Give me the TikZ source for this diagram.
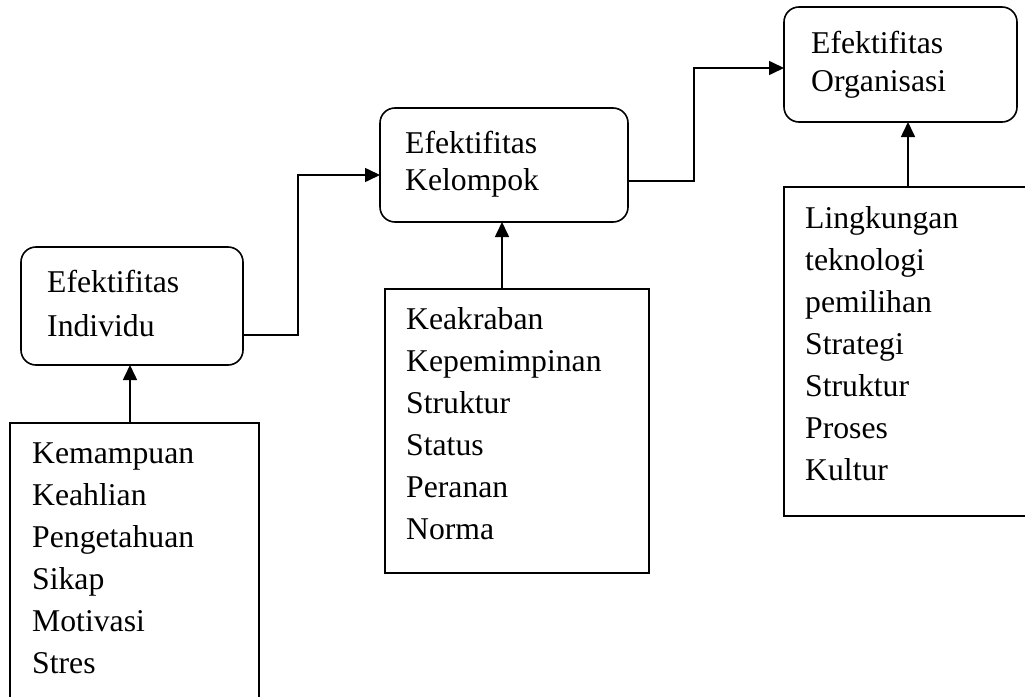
\documentclass[tikz,border=0pt]{standalone}
\usepackage{fontspec}
\setmainfont{Liberation Serif}
\usetikzlibrary{arrows.meta}
\begin{document}
\begin{tikzpicture}[x=1pt,y=-1pt,
  box/.style={draw,line width=1.6pt,anchor=north west,inner sep=0pt,outer sep=0pt},
  rbox/.style={box,rounded corners=15pt},
  txt/.style={anchor=base west,inner sep=0pt,font=\fontsize{31.7}{42}\selectfont},
  conn/.style={line width=1.6pt,-{Triangle[length=15pt,width=14pt]}}]
\useasboundingbox (0,0) rectangle (1025,696);
% boxes
\node[rbox,minimum width=222pt,minimum height=118pt] (ind) at (21,247) {};
\node[box,minimum width=249pt,minimum height=300pt] (kem) at (10,423) {};
\node[rbox,minimum width=248pt,minimum height=114pt] (kel) at (380,108) {};
\node[box,minimum width=264pt,minimum height=284pt] (kea) at (385,289) {};
\node[rbox,minimum width=233pt,minimum height=115pt] (org) at (784,7) {};
\node[box,minimum width=260pt,minimum height=329pt] (lin) at (784,187) {};
% texts
\node[txt] (ind1) at (47,292) {Efektifitas};
\node[txt] (ind2) at (47,336) {Individu};
\node[txt] (kel1) at (405,153) {Efektifitas};
\node[txt] (kel2) at (405,190) {Kelompok};
\node[txt] (org1) at (811,53) {Efektifitas};
\node[txt] (org2) at (811,91) {Organisasi};
\node[txt] (k1) at (32,463) {Kemampuan};
\node[txt] (k2) at (32,505) {Keahlian};
\node[txt] (k3) at (32,547) {Pengetahuan};
\node[txt] (k4) at (32,589) {Sikap};
\node[txt] (k5) at (32,631) {Motivasi};
\node[txt] (k6) at (32,673) {Stres};
\node[txt] (g1) at (406,329) {Keakraban};
\node[txt] (g2) at (406,371) {Kepemimpinan};
\node[txt] (g3) at (406,413) {Struktur};
\node[txt] (g4) at (406,455) {Status};
\node[txt] (g5) at (406,497) {Peranan};
\node[txt] (g6) at (406,539) {Norma};
\node[txt] (l1) at (805,228) {Lingkungan};
\node[txt] (l2) at (805,270) {teknologi};
\node[txt] (l3) at (805,312) {pemilihan};
\node[txt] (l4) at (805,354) {Strategi};
\node[txt] (l5) at (805,396) {Struktur};
\node[txt] (l6) at (805,438) {Proses};
\node[txt] (l7) at (805,480) {Kultur};
% connectors
\coordinate (t1) at (298,335);
\coordinate (t2) at (298,175);
\coordinate (t3) at (694,181);
\coordinate (t4) at (694,68);
\coordinate (u1) at (130,0);
\coordinate (u2) at (502,0);
\coordinate (u3) at (908,0);
\draw[conn] (ind.east |- t1) -- (t1) -- (t2) -- (kel.west |- t2);
\draw[conn] (kel.east |- t3) -- (t3) -- (t4) -- (org.west |- t4);
\draw[conn] (kem.north -| u1) -- (ind.south -| u1);
\draw[conn] (kea.north -| u2) -- (kel.south -| u2);
\draw[conn] (lin.north -| u3) -- (org.south -| u3);
\end{tikzpicture}
\end{document}
